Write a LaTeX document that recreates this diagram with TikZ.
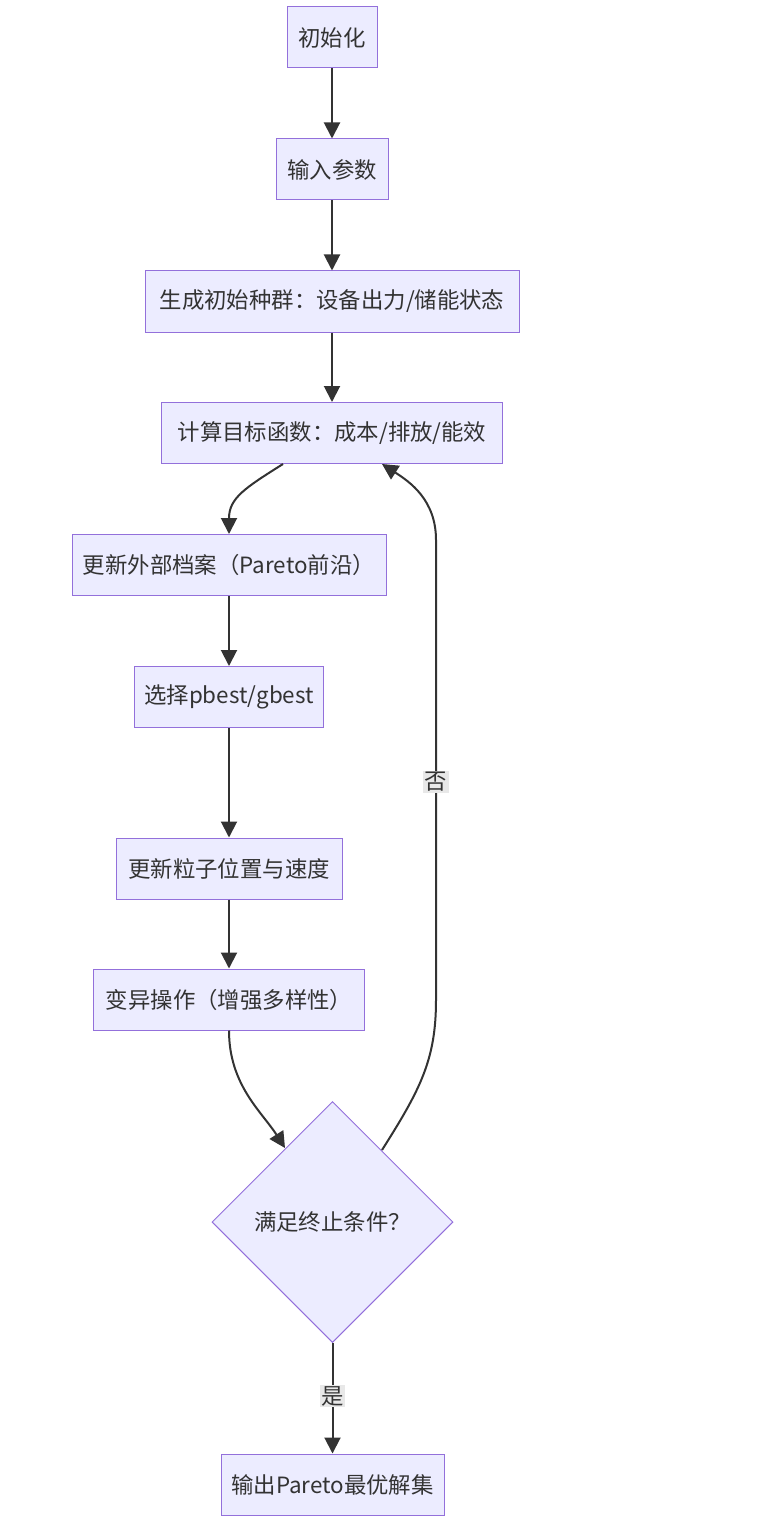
\documentclass[tikz,border=0pt]{standalone}
\usepackage{fontspec}
\setmainfont{Noto Sans CJK SC}
\usetikzlibrary{arrows.meta,shapes.geometric,calc}
\definecolor{nodefill}{HTML}{ECECFF}
\definecolor{nodedraw}{HTML}{9370DB}
\definecolor{edgecol}{HTML}{333333}
\definecolor{lblbg}{HTML}{E8E8E8}
\begin{document}
\begin{tikzpicture}[x=0.75pt,y=-0.75pt,
  box/.style={draw=nodedraw, fill=nodefill, line width=0.75pt, minimum height=45.75pt,
    inner sep=0pt, text=edgecol, font=\fontsize{16.8}{19}\selectfont},
  decision/.style={diamond, aspect=1, draw=nodedraw, fill=nodefill, line width=0.75pt,
    minimum width=180.75pt, minimum height=180.75pt, inner sep=0pt, text=edgecol,
    font=\fontsize{16.8}{19}\selectfont},
  arr/.style={draw=edgecol, line width=1.5pt, -{Triangle[length=12pt,width=12pt]}},
  lbl/.style={fill=lblbg, inner sep=1pt, text=edgecol, font=\fontsize{16.8}{19}\selectfont}]
\useasboundingbox (0,0) rectangle (774,1526);
\fill[white] (0,0) rectangle (774,1526);

\node[box, minimum width=67.5pt]  (n1) at (332,37.5) {初始化};
\node[box, minimum width=84pt]    (n2) at (332,169.5) {输入参数};
\node[box, minimum width=280.5pt] (n3) at (332,301.5) {生成初始种群：设备出力/储能状态};
\node[box, minimum width=255.75pt] (n4) at (332,433) {计算目标函数：成本/排放/能效};
\node[box, minimum width=235.5pt] (n5) at (229,565) {更新外部档案（Pareto前沿）};
\node[box, minimum width=141.75pt] (n6) at (229,697) {选择pbest/gbest};
\node[box, minimum width=169.5pt] (n7) at (229,868.5) {更新粒子位置与速度};
\node[box, minimum width=203.25pt] (n8) at (229,999.5) {变异操作（增强多样性）};
\node[decision] (n9) at (332.5,1222) {满足终止条件？};
\node[box, minimum width=167.25pt] (n10) at (332.5,1484.5) {输出Pareto最优解集};

\draw[arr] (n1) -- (n2);
\draw[arr] (n2) -- (n3);
\draw[arr] (n3) -- (n4);
\draw[arr] ($(n4.south)+(-49,0)$) .. controls (245,488) and (229,498) .. (n5.north);
\draw[arr] (n5) -- (n6);
\draw[arr] (n6) -- (n7);
\draw[arr] (n7) -- (n8);
\draw[arr] (n8.south) .. controls (229,1085) and (262,1112) .. ($(n9.center)+(-47.5,-74)$);
\draw[arr] ($(n9.center)+(49.5,-72)$) .. controls (420,1090) and (436,1060) .. (436,1000)
  -- node[lbl,pos=0.474] (lno) {否} (436,540)
  .. controls (436,500) and (410,482) .. ($(n4.south)+(50,0)$);
\draw[arr] (n9.south) -- node[lbl,pos=0.48] (lyes) {是} (n10.north);
\end{tikzpicture}
\end{document}
